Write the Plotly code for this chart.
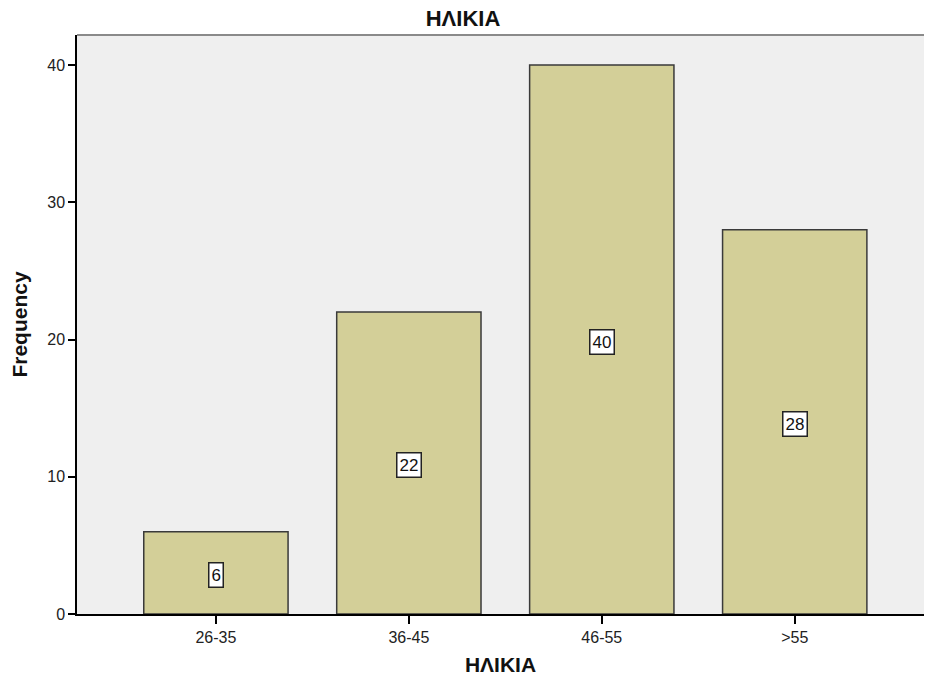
import plotly.graph_objects as go

# Age groups and their counts
age_groups = ["26-35", "36-45", "46-55", ">55"]
counts = [6, 22, 40, 28]
y_ticks = [0, 10, 20, 30, 40]

font_family = "Liberation Sans, Arial, sans-serif"

fig = go.Figure()
fig.add_trace(go.Bar(
    x=age_groups,
    y=counts,
    marker=dict(color="#d3cf98", line=dict(color="#3a3a3a", width=1.5)),
    width=0.748,
    hoverinfo="x+y",
))

# Value labels in white boxes at half bar height
for g, c in zip(age_groups, counts):
    fig.add_annotation(
        x=g, y=c / 2, text=str(c), showarrow=False, yshift=-2,
        font=dict(family=font_family, size=17, color="#111"),
        bgcolor="white", bordercolor="#222", borderwidth=1.5, borderpad=2,
    )

fig.update_layout(
    width=926, height=681,
    margin=dict(l=77, r=2, t=35, b=67),
    paper_bgcolor="white",
    plot_bgcolor="#efefef",
    showlegend=False,
    title=dict(text="<b>ΗΛΙΚΙΑ</b>", x=0.5, xanchor="center", y=1 - 18 / 681, yanchor="middle",
               font=dict(family=font_family, size=22, color="#111")),
    font=dict(family=font_family, size=16, color="#222"),
)
fig.update_xaxes(
    range=[-0.72, 3.67],
    showline=True, linecolor="black", linewidth=1.5,
    ticks="outside", ticklen=8, tickcolor="black", tickwidth=1.5,
    showgrid=False, zeroline=False,
    tickfont=dict(family=font_family, size=16, color="#222"),
    title=dict(text="<b>ΗΛΙΚΙΑ</b>", standoff=12,
               font=dict(family=font_family, size=21, color="#111")),
)
fig.update_yaxes(
    range=[0, 42.19],
    tickvals=y_ticks,
    showline=True, linecolor="black", linewidth=1.5,
    ticks="outside", ticklen=7, tickcolor="black", tickwidth=1.5,
    showgrid=False, zeroline=False,
    tickfont=dict(family=font_family, size=16, color="#222"),
    title=dict(text="<b>Frequency</b>", standoff=14,
               font=dict(family=font_family, size=21, color="#111")),
)
# Grey frame line along the top of the plot area
fig.add_shape(type="line", xref="paper", yref="paper", x0=0, x1=1, y0=1, y1=1,
              line=dict(color="#8a8a8a", width=2))

fig.write_html("out.html")
